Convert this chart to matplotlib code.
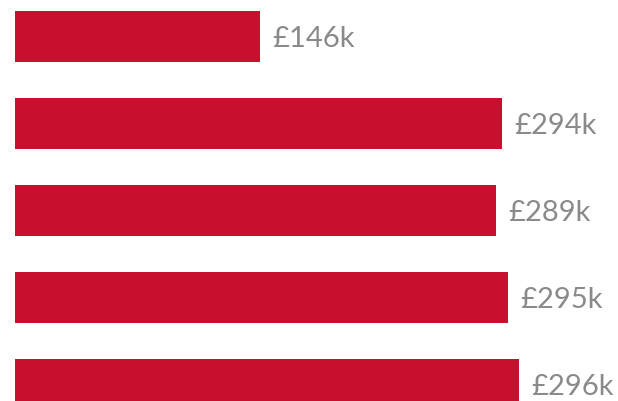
import matplotlib
matplotlib.use("Agg")
import matplotlib.pyplot as plt

# values shown on the labels (in £k)
labels = ["£146k", "£294k", "£289k", "£295k", "£296k"]
# bar lengths as drawn in the reference (in £k)
bar_lengths = [146, 290, 286.7, 293.8, 300.4]

bar_color = "#C8102E"
text_color = "#8a8a8a"

fig = plt.figure(figsize=(6.18, 4.02), dpi=100)
ax = fig.add_axes([15 / 618, 0, 604 / 618, 1])

y = list(range(len(bar_lengths)))
ax.barh(y, bar_lengths, height=0.58, color=bar_color)

for yi, val, lab in zip(y, bar_lengths, labels):
    ax.annotate(lab, xy=(val, yi), xytext=(9, -1), textcoords="offset points",
                va="center", ha="left", fontsize=21, color=text_color,
                family=["Lato", "DejaVu Sans"])

ax.set_xlim(0, 360)
ax.set_ylim(4.19, -0.431)
ax.axis("off")

fig.savefig("out.png", dpi=100)
